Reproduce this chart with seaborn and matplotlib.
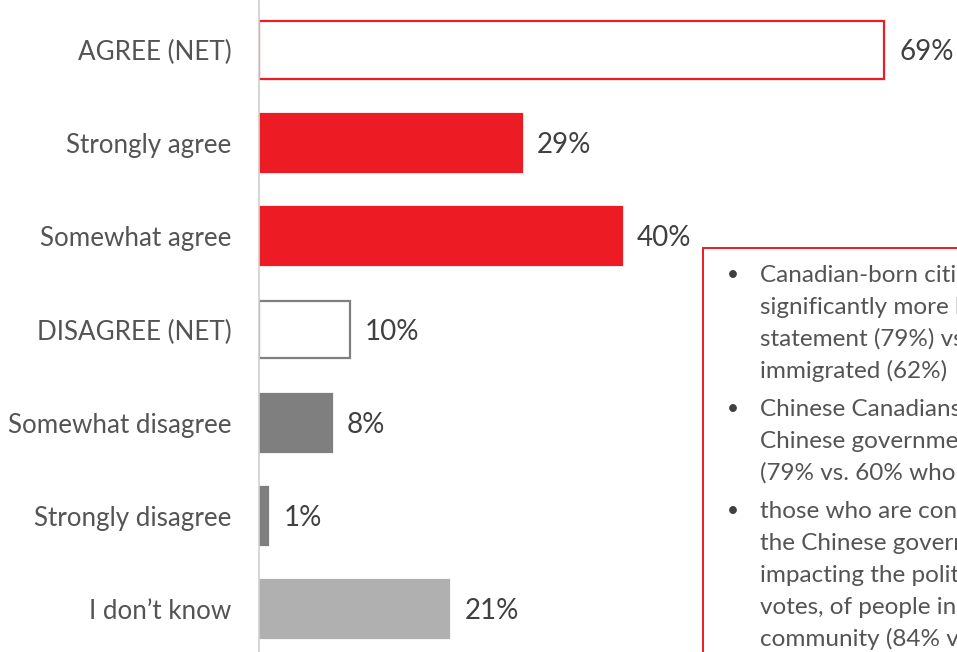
import matplotlib
matplotlib.use("Agg")
import matplotlib.pyplot as plt
from matplotlib.patches import Rectangle
import seaborn as sns
import pandas as pd

sns.set_theme(style="white")
plt.rcParams["font.family"] = ["Lato", "DejaVu Sans"]

categories = ["AGREE (NET)", "Strongly agree", "Somewhat agree", "DISAGREE (NET)",
              "Somewhat disagree", "Strongly disagree", "I don\u2019t know"]
values = [69, 29, 40, 10, 8, 1, 21]
labels = ["69%", "29%", "40%", "10%", "8%", "1%", "21%"]

RED = "#ED1C24"
DARK = "#7F7F7F"
LIGHT = "#B0B0B0"
TEXT = "#404040"
SOFT = "#545454"
faces = ["white", RED, RED, "white", DARK, DARK, LIGHT]
edges = [RED, RED, RED, DARK, DARK, DARK, LIGHT]

notes = [
    ["Canadian-born citizens are", "significantly more likely to agree with this",
     "statement (79%) vs. those who have", "immigrated (62%)"],
    ["Chinese Canadians who trust the", "Chinese government less are more likely",
     "(79% vs. 60% who trust it more)"],
    ["those who are concerned about", "the Chinese government", "impacting the political views, including",
     "votes, of people in the Chinese", "community (84% vs. 58%)"],
]

df = pd.DataFrame({"category": categories, "value": values})

W, H = 957, 652
fig = plt.figure(figsize=(W / 100, H / 100), dpi=100)
ax = fig.add_axes([259 / W, 0, 1 - 259 / W, 1])

sns.barplot(data=df, x="value", y="category", orient="h", ax=ax,
            width=0.62, color=RED, saturation=1)

for patch, fc, ec in zip(ax.patches, faces, edges):
    patch.set_facecolor(fc)
    patch.set_edgecolor(ec)
    patch.set_linewidth(1.6)

for i, (v, lab) in enumerate(zip(values, labels)):
    ax.annotate(lab, xy=(v, i), xytext=(11, -1.5), textcoords="offset points",
                ha="left", va="center", fontsize=20, color=TEXT,
                annotation_clip=False)

ax.set_xlim(0, 77)
ax.set_ylim(6.459, -0.536)
ax.set_xlabel("")
ax.set_ylabel("")
ax.set_xticks([])
ax.tick_params(axis="y", length=0, pad=20, labelsize=18.7, labelcolor=SOFT)
for s in ["top", "right", "bottom"]:
    ax.spines[s].set_visible(False)
ax.spines["left"].set_color("#D0D0D0")
ax.spines["left"].set_linewidth(1.2)

# note box on the right
box = Rectangle((703 / W, 1 - 652 / H - 0.01), 0.3, (652 - 248) / H + 0.01,
                transform=fig.transFigure, fill=False, edgecolor=RED,
                linewidth=1.4, clip_on=False)
fig.patches.append(box)

y = 275
for para in notes:
    fig.text(727 / W, 1 - y / H, "\u2022", fontsize=15, color=TEXT,
             ha="left", va="center")
    for line in para:
        fig.text(760 / W, 1 - y / H, line, fontsize=17.5, color=SOFT,
                 ha="left", va="center")
        y += 32
    y += 6

fig.savefig("out.png", dpi=100)
